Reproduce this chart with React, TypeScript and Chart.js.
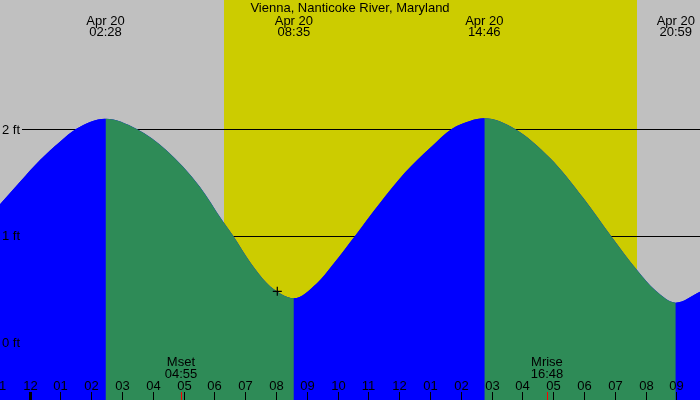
import React, { useEffect, useRef } from "react";
import { Chart, registerables } from "chart.js";

Chart.register(...registerables);

// ---------- data ----------
const TITLE = "Vienna, Nanticoke River, Maryland";
const DATE_LABEL = "Apr 20";

// tide curve (hours after local midnight of Apr 20, height in feet)
const tideHours = [
  -0.958, -0.308, 0.341, 0.99, 1.51, 2.467,
  3.481, 4.455, 5.536, 6.25, 6.617, 7.159, 7.701, 8.166, 8.583,
  9.325, 9.864, 10.568, 11.38, 12.192, 13.003, 13.708, 14.302, 14.767,
  15.763, 16.899, 17.981, 18.88, 19.724, 20.308, 20.983,
  21.769,
];
const tideFeet = [
  1.296, 1.507, 1.71, 1.881, 2.0, 2.096,
  2.0, 1.799, 1.458, 1.15, 1.0, 0.757, 0.561, 0.458, 0.418,
  0.556, 0.738, 1.0, 1.308, 1.593, 1.822, 2.0, 2.075, 2.1,
  2.0, 1.729, 1.355, 1.0, 0.682, 0.495, 0.377,
  0.479,
];

// high / low tide events
const eventHours = [2.467, 8.583, 14.767, 20.983];
const eventLabels = ["02:28", "08:35", "14:46", "20:59"];

// daylight
const sunriseHour = 6.315;
const sunsetHour = 19.724;

// moon events
const moonHours = [4.917, 16.8];
const moonNames = ["Mset", "Mrise"];
const moonTimes = ["04:55", "16:48"];

// height levels
const levelFeet = [0, 1, 2];
const levelLabels = ["0 ft", "1 ft", "2 ft"];

// hour ticks
const hourTicks = [-1, 0, 1, 2, 3, 4, 5, 6, 7, 8, 9, 10, 11, 12, 13, 14, 15, 16, 17, 18, 19, 20, 21, 22];
const hourLabels = ["11", "12", "01", "02", "03", "04", "05", "06", "07", "08", "09", "10", "11",
  "12", "01", "02", "03", "04", "05", "06", "07", "08", "09", "10"];
const midnightHours = [0];

// current time marker
const nowHour = 8.045;
const nowFeet = 0.483;

// visible window
const X_MIN = -0.958;
const X_MAX = 21.769;
const Y_MIN = -0.533;
const Y_MAX = 3.206;

// ---------- style ----------
const GRAY = "rgb(192,192,192)";
const YELLOW = "rgb(204,204,0)";
const BLUE = "rgb(0,0,255)";
const GREEN = "rgb(46,139,87)";
const FONT = '13px "Liberation Sans", Arial, sans-serif';

const decor = {
  id: "tideDecor",
  beforeDatasetsDraw(chart: any) {
    const { ctx, chartArea, scales } = chart;
    const x = scales.x;
    const y = scales.y;
    const { left, right, top, bottom } = chartArea;
    ctx.save();
    ctx.fillStyle = GRAY;
    ctx.fillRect(left, top, right - left, bottom - top);
    const sx1 = Math.round(x.getPixelForValue(sunriseHour));
    const sx2 = Math.round(x.getPixelForValue(sunsetHour));
    ctx.fillStyle = YELLOW;
    ctx.fillRect(sx1, top, sx2 - sx1, bottom - top);

    ctx.strokeStyle = "#000";
    ctx.lineWidth = 1;
    for (const lv of levelFeet) {
      const py = Math.round(y.getPixelForValue(lv)) + 0.5;
      ctx.beginPath();
      ctx.moveTo(22, py);
      ctx.lineTo(right, py);
      ctx.stroke();
    }

    ctx.fillStyle = "#000";
    ctx.font = FONT;
    ctx.textAlign = "center";
    ctx.textBaseline = "alphabetic";
    ctx.fillText(TITLE, (left + right) / 2, 12);
    eventHours.forEach((h, i) => {
      const px = x.getPixelForValue(h);
      ctx.fillText(DATE_LABEL, px, 24.5);
      ctx.fillText(eventLabels[i], px, 36);
    });
    ctx.restore();
  },
  afterDatasetsDraw(chart: any) {
    const { ctx, chartArea, scales } = chart;
    const x = scales.x;
    const y = scales.y;
    const { bottom } = chartArea;
    ctx.save();
    ctx.fillStyle = "#000";
    ctx.font = FONT;

    // level labels
    ctx.textAlign = "left";
    ctx.textBaseline = "alphabetic";
    levelFeet.forEach((lv, i) => {
      const py = y.getPixelForValue(lv);
      ctx.fillText(levelLabels[i], 2, py + 4.5);
    });

    // hour ticks & labels
    ctx.textAlign = "center";
    ctx.strokeStyle = "#000";
    hourTicks.forEach((h, i) => {
      const px = Math.round(x.getPixelForValue(h));
      ctx.lineWidth = 1;
      ctx.beginPath();
      ctx.moveTo(px + 0.5, bottom - 8);
      ctx.lineTo(px + 0.5, bottom);
      ctx.stroke();
      ctx.fillText(hourLabels[i], px + 0.5, 390);
    });
    midnightHours.forEach((h) => {
      const px = Math.round(x.getPixelForValue(h));
      ctx.fillRect(px - 1, bottom - 8, 3, 8);
    });

    // moon events
    moonHours.forEach((h, i) => {
      const px = x.getPixelForValue(h);
      ctx.fillStyle = "#000";
      ctx.fillText(moonNames[i], px, 366);
      ctx.fillText(moonTimes[i], px, 378);
      ctx.fillStyle = "rgb(255,0,0)";
      ctx.fillRect(Math.round(px), bottom - 8, 1, 8);
    });
    ctx.restore();
  },
};

export default function App() {
  const ref = useRef<HTMLCanvasElement | null>(null);
  useEffect(() => {
    if (!ref.current) return;
    const points = tideHours.map((h, i) => ({ x: h, y: tideFeet[i] }));
    const chart = new Chart(ref.current, {
      type: "line",
      data: {
        datasets: [
          {
            type: "scatter",
            data: [{ x: nowHour, y: nowFeet }],
            pointStyle: "cross",
            pointRadius: 4.5,
            borderColor: "#000",
            backgroundColor: "#000",
            borderWidth: 1.2,
            showLine: false,
          } as any,
          {
            // rising (blue) / falling (green) water
            data: points,
            fill: "start",
            borderWidth: 0,
            borderColor: "rgba(0,0,0,0)",
            pointRadius: 0,
            cubicInterpolationMode: "monotone",
            backgroundColor: BLUE,
            segment: {
              backgroundColor: (c: any) => (c.p1.parsed.y >= c.p0.parsed.y ? BLUE : GREEN),
            },
          } as any,
          {
            // underlay to avoid seams between segments
            data: points,
            fill: "start",
            borderWidth: 0,
            borderColor: "rgba(0,0,0,0)",
            pointRadius: 0,
            cubicInterpolationMode: "monotone",
            backgroundColor: BLUE,
          } as any,
        ],
      },
      options: {
        responsive: false,
        animation: false,
        events: [],
        layout: { padding: 0, autoPadding: false },
        scales: {
          x: { type: "linear", min: X_MIN, max: X_MAX, display: false },
          y: { type: "linear", min: Y_MIN, max: Y_MAX, display: false },
        },
        plugins: {
          legend: { display: false },
          tooltip: { enabled: false },
          title: { display: false },
        },
      },
      plugins: [decor],
    });
    return () => chart.destroy();
  }, []);

  return (
    <div style={{ position: "fixed", left: 0, top: 0, width: 700, height: 400 }}>
      <canvas ref={ref} width={700} height={400} style={{ display: "block" }} />
    </div>
  );
}
